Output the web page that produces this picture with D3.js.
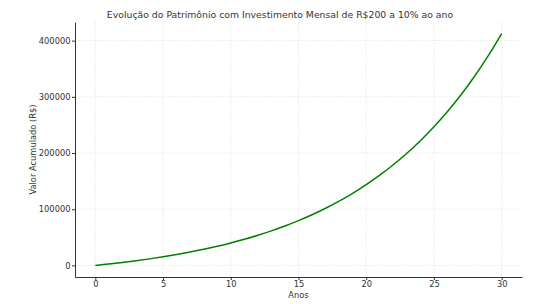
<!DOCTYPE html>
<html>
<head>
<meta charset="utf-8">
<script src="https://cdn.jsdelivr.net/npm/d3@7"></script>
<style>
  body { margin: 0; background: #fff; }
  text { font-family: "DejaVu Sans", sans-serif; fill: #333; }
</style>
</head>
<body>
<div id="grafico"></div>
<script>
// anos e valor acumulado
const anos = [0, 1, 2, 3, 4, 5, 6, 7, 8, 9, 10, 11, 12, 13, 14, 15, 16, 17, 18, 19, 20,
              21, 22, 23, 24, 25, 26, 27, 28, 29, 30];
const valores = [0, 2508, 5267, 8302, 11640, 15312, 19351, 23795, 28682, 34059, 39973,
                 46478, 53634, 61505, 70164, 79688, 90166, 101690, 114367, 128312, 143651,
                 160525, 179086, 199502, 221961, 246665, 273839, 303732, 336613, 372782, 412568];
const ticksX = [0, 5, 10, 15, 20, 25, 30];
const ticksY = [0, 100000, 200000, 300000, 400000];

const largura = 558, altura = 304;
const margem = { topo: 22, direita: 36, baixo: 27, esquerda: 75 };

const svg = d3.select('#grafico').append('svg')
  .attr('width', largura).attr('height', altura);

const x = d3.scaleLinear().domain([-1.5, 31.5])
  .range([margem.esquerda, largura - margem.direita]);
const ymax = d3.max(valores);
const y = d3.scaleLinear().domain([-ymax * 0.05, ymax * 1.05])
  .range([altura - margem.baixo, margem.topo]);

const dados = anos.map((a, i) => ({ ano: a, valor: valores[i] }));

// grade
const grade = svg.append('g');
grade.selectAll('.gx').data(ticksX).enter().append('line')
  .attr('x1', d => x(d)).attr('x2', d => x(d))
  .attr('y1', margem.topo).attr('y2', altura - margem.baixo)
  .attr('stroke', '#e3e3e3').attr('stroke-width', 0.8).attr('stroke-dasharray', '1.5,1.5');
grade.selectAll('.gy').data(ticksY).enter().append('line')
  .attr('x1', margem.esquerda).attr('x2', largura - margem.direita)
  .attr('y1', d => y(d)).attr('y2', d => y(d))
  .attr('stroke', '#e3e3e3').attr('stroke-width', 0.8).attr('stroke-dasharray', '1.5,1.5');

// linha
svg.append('path').datum(dados)
  .attr('fill', 'none').attr('stroke', 'green').attr('stroke-width', 1.5)
  .attr('d', d3.line().x(d => x(d.ano)).y(d => y(d.valor)).curve(d3.curveCatmullRom));

// eixos
const eixoX = svg.append('g')
  .attr('transform', `translate(0, ${altura - margem.baixo})`)
  .call(d3.axisBottom(x).tickValues(ticksX).tickSize(3).tickPadding(1.5).tickSizeOuter(0));
const eixoY = svg.append('g')
  .attr('transform', `translate(${margem.esquerda}, 0)`)
  .call(d3.axisLeft(y).tickValues(ticksY).tickFormat(d3.format('d')).tickSize(3).tickPadding(1.5).tickSizeOuter(0));
[eixoX, eixoY].forEach(e => {
  e.select('.domain').attr('stroke', '#333').attr('stroke-width', 1);
  e.selectAll('.tick line').attr('stroke', '#333');
  e.selectAll('.tick text').style('font-size', '8.3px').attr('fill', '#333');
});

// títulos
svg.append('text').attr('x', 280).attr('y', 17.5)
  .attr('text-anchor', 'middle').style('font-size', '9.3px')
  .text('Evolução do Patrimônio com Investimento Mensal de R$200 a 10% ao ano');
svg.append('text').attr('x', x(15)).attr('y', 298)
  .attr('text-anchor', 'middle').style('font-size', '8.3px').text('Anos');
svg.append('text')
  .attr('transform', `translate(36, ${(margem.topo + altura - margem.baixo) / 2}) rotate(-90)`)
  .attr('text-anchor', 'middle').style('font-size', '8.3px').text('Valor Acumulado (R$)');
</script>
</body>
</html>
